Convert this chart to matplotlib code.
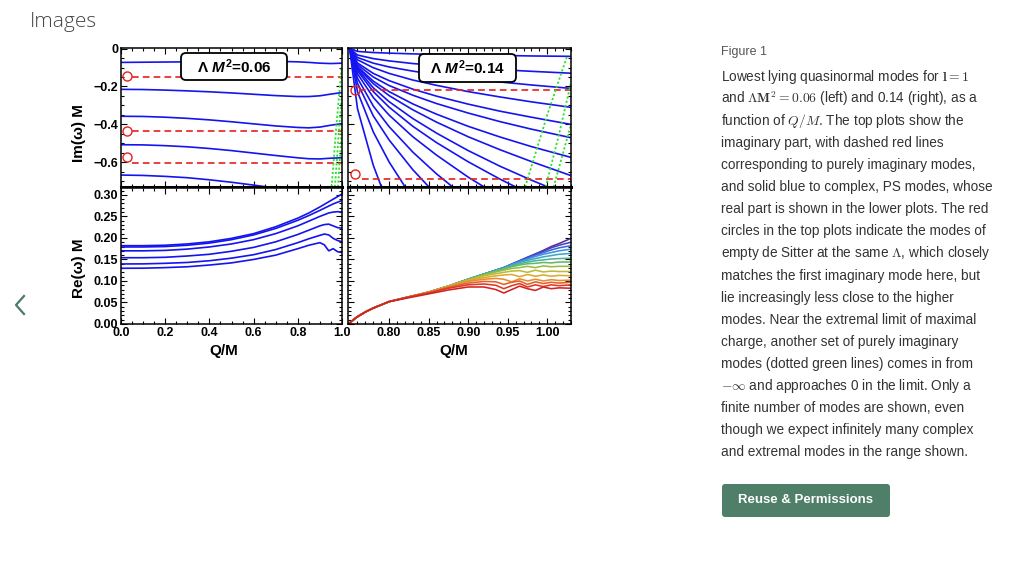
import numpy as np
import matplotlib
matplotlib.use("Agg")
import matplotlib.pyplot as plt
from matplotlib.patches import FancyBboxPatch
from matplotlib.ticker import MultipleLocator, FixedLocator, FixedFormatter
from matplotlib.lines import Line2D
from matplotlib.colors import LinearSegmentedColormap

plt.rcParams['mathtext.fontset'] = 'custom'
plt.rcParams['mathtext.rm'] = 'Liberation Sans:bold'
plt.rcParams['mathtext.it'] = 'Liberation Sans:italic:bold'
plt.rcParams['mathtext.bf'] = 'Liberation Sans:bold'
plt.rcParams['font.family'] = ['Liberation Sans', 'DejaVu Sans']

# ---------------- data: Lambda M^2 = 0.06 (left) ----------------
q_left_im = [0.0, 0.1, 0.2, 0.3, 0.4, 0.5, 0.6, 0.7, 0.8, 0.85, 0.9, 0.95, 1.0]
im06_ps1 = [-0.073, -0.072, -0.071, -0.070, -0.069, -0.068, -0.067, -0.067, -0.070, -0.073, -0.077, -0.079, -0.077]
im06_ps2 = [-0.215, -0.216, -0.219, -0.223, -0.228, -0.234, -0.241, -0.248, -0.253, -0.253, -0.249, -0.240, -0.232]
im06_ps3 = [-0.357, -0.358, -0.362, -0.368, -0.376, -0.386, -0.397, -0.408, -0.416, -0.418, -0.414, -0.404, -0.396]
im06_ps4 = [-0.507, -0.508, -0.512, -0.518, -0.527, -0.538, -0.551, -0.564, -0.576, -0.581, -0.582, -0.578, -0.576]
im06_ps5 = [-0.667, -0.669, -0.674, -0.681, -0.692, -0.705, -0.720, -0.736, -0.752, -0.760, -0.768, -0.776, -0.784]
im06_pure = [-0.148, -0.437, -0.601]
im06_pure_q = [0.048, 1.0]
im06_ds = [-0.147, -0.433, -0.572]
im06_ds_q = 0.027
green06_q = [[0.953, 0.975, 0.998], [0.968, 0.985, 0.999], [0.982, 0.992, 0.9995]]
green06_im = [[-0.73, -0.40, -0.10], [-0.73, -0.45, -0.25], [-0.73, -0.55, -0.40]]

q_left_re = [0, 0.1, 0.2, 0.3, 0.4, 0.5, 0.6, 0.7, 0.8, 0.85, 0.9, 0.92, 0.94, 0.96, 0.98, 1.0]
re06_1 = [0.182, 0.182, 0.183, 0.186, 0.191, 0.199, 0.210, 0.226, 0.246, 0.258, 0.272, 0.278, 0.284, 0.290, 0.296, 0.302]
re06_2 = [0.179, 0.179, 0.180, 0.183, 0.188, 0.196, 0.207, 0.222, 0.241, 0.252, 0.264, 0.269, 0.274, 0.279, 0.283, 0.287]
re06_3 = [0.170, 0.170, 0.171, 0.174, 0.179, 0.186, 0.196, 0.210, 0.228, 0.239, 0.250, 0.254, 0.258, 0.260, 0.261, 0.260]
re06_4 = [0.154, 0.154, 0.155, 0.158, 0.162, 0.169, 0.178, 0.191, 0.208, 0.218, 0.228, 0.231, 0.232, 0.228, 0.224, 0.2225]
re06_5 = [0.1395, 0.1397, 0.141, 0.143, 0.147, 0.153, 0.161, 0.173, 0.189, 0.198, 0.206, 0.209, 0.207, 0.199, 0.194, 0.191]
re06_6 = [0.1295, 0.1297, 0.131, 0.133, 0.137, 0.142, 0.150, 0.160, 0.175, 0.183, 0.189, 0.184, 0.170, 0.175, 0.168, 0.166]

# ---------------- data: Lambda M^2 = 0.14 (right) ----------------
q_right_im = [0.75, 0.76, 0.78, 0.80, 0.83, 0.86, 0.90, 0.94, 0.98, 1.03]
im14_01 = [0, -0.015, -0.021, -0.024, -0.028, -0.031, -0.034, -0.036, -0.039, -0.041]
im14_02 = [0, -0.034, -0.053, -0.065, -0.079, -0.089, -0.101, -0.111, -0.120, -0.130]
im14_03 = [0, -0.047, -0.077, -0.097, -0.119, -0.138, -0.159, -0.176, -0.192, -0.210]
im14_04 = [0, -0.059, -0.101, -0.131, -0.166, -0.194, -0.227, -0.255, -0.281, -0.310]
im14_05 = [0, -0.076, -0.131, -0.169, -0.214, -0.251, -0.293, -0.330, -0.362, -0.400]
im14_06 = [0, -0.085, -0.150, -0.195, -0.246, -0.290, -0.340, -0.385, -0.425, -0.470]
im14_07 = [0, -0.095, -0.172, -0.227, -0.292, -0.346, -0.410, -0.466, -0.517, -0.574]
im14_08 = [0, -0.100, -0.185, -0.248, -0.323, -0.388, -0.465, -0.533, -0.596, -0.670]
im14_09 = [0, -0.108, -0.207, -0.280, -0.369, -0.446, -0.538, -0.620, -0.694, -0.780]
im14_10 = [0, -0.117, -0.227, -0.309, -0.410, -0.496, -0.597, -0.688, -0.771, -0.868]
im14_11 = [0, -0.133, -0.258, -0.351, -0.465, -0.562, -0.678, -0.781, -0.875, -0.985]
im14_12 = [0, -0.156, -0.303, -0.412, -0.546, -0.661, -0.796, -0.917, -1.03, -1.16]
im14_13 = [0, -0.183, -0.355, -0.482, -0.639, -0.773, -0.93, -1.07, -1.2, -1.35]
im14_14 = [0, -0.227, -0.440, -0.598, -0.793, -0.96, -1.15, -1.33, -1.49, -1.68]
im14_15 = [0, -0.317, -0.616, -0.837, -1.11, -1.34, -1.61, -1.86, -2.08, -2.35]
im14_pure = [-0.219, -0.686]
im14_pure_q = [[0.762, 1.03], [0.766, 1.03]]
im14_ds = [-0.219, -0.660]
im14_ds_q = 0.757
green14_q = [[0.972, 1.0, 1.025], [0.998, 1.015, 1.03], [1.008, 1.02, 1.03]]
green14_im = [[-0.73, -0.35, -0.04], [-0.73, -0.45, -0.18], [-0.73, -0.55, -0.40]]

q_right_re = [0.75, 0.755, 0.76, 0.77, 0.78, 0.80, 0.825, 0.85, 0.875, 0.90, 0.92,
              0.935, 0.945, 0.955, 0.965, 0.975, 0.985, 0.995, 1.005, 1.015, 1.03]
re14_01 = [0.002, 0.010, 0.017, 0.028, 0.037, 0.052, 0.063, 0.074, 0.088, 0.104, 0.116, 0.125, 0.131, 0.139, 0.147, 0.155, 0.163, 0.171, 0.180, 0.187, 0.199]
re14_02 = [0.002, 0.010, 0.017, 0.028, 0.037, 0.052, 0.063, 0.074, 0.088, 0.104, 0.116, 0.125, 0.131, 0.139, 0.147, 0.155, 0.162, 0.169, 0.177, 0.183, 0.190]
re14_03 = [0.002, 0.010, 0.017, 0.028, 0.037, 0.052, 0.063, 0.074, 0.088, 0.104, 0.116, 0.125, 0.131, 0.139, 0.146, 0.153, 0.160, 0.166, 0.172, 0.177, 0.182]
re14_04 = [0.002, 0.010, 0.017, 0.028, 0.037, 0.052, 0.063, 0.074, 0.088, 0.104, 0.116, 0.125, 0.131, 0.138, 0.145, 0.151, 0.157, 0.162, 0.166, 0.170, 0.174]
re14_05 = [0.002, 0.010, 0.017, 0.028, 0.037, 0.052, 0.063, 0.074, 0.088, 0.104, 0.116, 0.125, 0.130, 0.137, 0.143, 0.148, 0.152, 0.156, 0.159, 0.162, 0.164]
re14_06 = [0.002, 0.010, 0.017, 0.028, 0.037, 0.052, 0.063, 0.074, 0.088, 0.104, 0.116, 0.124, 0.129, 0.135, 0.140, 0.144, 0.147, 0.149, 0.151, 0.152, 0.153]
re14_07 = [0.002, 0.010, 0.017, 0.028, 0.037, 0.052, 0.063, 0.074, 0.088, 0.104, 0.115, 0.123, 0.128, 0.133, 0.137, 0.140, 0.141, 0.143, 0.142, 0.144, 0.144]
re14_08 = [0.002, 0.010, 0.017, 0.028, 0.037, 0.052, 0.063, 0.074, 0.088, 0.103, 0.114, 0.121, 0.125, 0.129, 0.131, 0.134, 0.131, 0.135, 0.133, 0.134, 0.134]
re14_09 = [0.002, 0.010, 0.017, 0.028, 0.037, 0.052, 0.063, 0.074, 0.088, 0.102, 0.112, 0.117, 0.120, 0.123, 0.124, 0.120, 0.125, 0.121, 0.123, 0.122, 0.122]
re14_10 = [0.002, 0.010, 0.017, 0.028, 0.037, 0.052, 0.063, 0.074, 0.087, 0.101, 0.108, 0.112, 0.114, 0.115, 0.110, 0.115, 0.111, 0.114, 0.111, 0.113, 0.112]
re14_11 = [0.002, 0.010, 0.017, 0.028, 0.037, 0.052, 0.063, 0.074, 0.086, 0.099, 0.104, 0.106, 0.104, 0.098, 0.105, 0.100, 0.104, 0.100, 0.103, 0.101, 0.102]
re14_12 = [0.002, 0.010, 0.017, 0.028, 0.037, 0.052, 0.063, 0.073, 0.085, 0.095, 0.099, 0.098, 0.092, 0.097, 0.100, 0.092, 0.098, 0.094, 0.097, 0.095, 0.097]
re14_13 = [0.002, 0.010, 0.017, 0.028, 0.037, 0.052, 0.063, 0.072, 0.083, 0.091, 0.093, 0.090, 0.082, 0.089, 0.094, 0.086, 0.091, 0.087, 0.091, 0.089, 0.091]
re14_14 = [0.002, 0.010, 0.017, 0.028, 0.037, 0.052, 0.061, 0.070, 0.079, 0.086, 0.086, 0.080, 0.072, 0.080, 0.088, 0.082, 0.078, 0.086, 0.082, 0.084, 0.083]

# tick labels
im_ticks = [0.0, -0.2, -0.4, -0.6]
im_ticklabels = ["0", "\u22120.2", "\u22120.4", "\u22120.6"]
re_ticks = [0.0, 0.05, 0.10, 0.15, 0.20, 0.25, 0.30]
re_ticklabels = ["0.00", "0.05", "0.10", "0.15", "0.20", "0.25", "0.30"]
ql_ticks = [0.0, 0.2, 0.4, 0.6, 0.8, 1.0]
ql_ticklabels = ["0.0", "0.2", "0.4", "0.6", "0.8", "1.0"]
qr_ticks = [0.80, 0.85, 0.90, 0.95, 1.00]
qr_ticklabels = ["0.80", "0.85", "0.90", "0.95", "1.00"]

# ---------------- figure ----------------
W, H = 1009, 572
fig = plt.figure(figsize=(W / 100, H / 100), dpi=100)
fig.patch.set_facecolor('white')

def fx(px):
    return px / W

def fy(py):
    return 1 - py / H

def axes_px(x0, y0, x1, y1):
    return fig.add_axes([fx(x0), fy(y1), fx(x1) - fx(x0), (y1 - y0) / H])

BLUE = '#1414f0'
RED = '#e8201c'
GREEN = '#2fe02f'

ax_tl = axes_px(121, 48, 342, 187)
ax_bl = axes_px(121, 188, 342, 324)
ax_tr = axes_px(348, 48, 571, 187)
ax_br = axes_px(348, 188, 571, 324)

for ax in (ax_tl, ax_bl, ax_tr, ax_br):
    ax.tick_params(which='both', direction='in', top=True, right=True,
                   width=0.8, labelsize=9, pad=2)
    ax.tick_params(which='major', length=4)
    ax.tick_params(which='minor', length=2)
    for s in ax.spines.values():
        s.set_linewidth(1.1)

IM_LIM = (-0.73, 0.003)
RE_LIM = (0.0, 0.316)

# top-left
for c in (im06_ps1, im06_ps2, im06_ps3, im06_ps4, im06_ps5):
    ax_tl.plot(q_left_im, c, color=BLUE, lw=1.2)
for v in im06_pure:
    ax_tl.plot(im06_pure_q, [v, v], color=RED, lw=1.2, dashes=(4, 2.5))
for v in im06_ds:
    ax_tl.plot([im06_ds_q], [v], 'o', mfc='none', mec=RED, ms=6.5, mew=1.0)
for gq, gi in zip(green06_q, green06_im):
    ax_tl.plot(gq, gi, color=GREEN, lw=1.3, ls=(0, (1.2, 1.2)))
ax_tl.set_xlim(0, 1.0)
ax_tl.set_ylim(*IM_LIM)

# top-right
for c in (im14_01, im14_02, im14_03, im14_04, im14_05, im14_06, im14_07, im14_08,
          im14_09, im14_10, im14_11, im14_12, im14_13, im14_14, im14_15):
    ax_tr.plot(q_right_im, c, color=BLUE, lw=1.2)
for v, pq in zip(im14_pure, im14_pure_q):
    ax_tr.plot(pq, [v, v], color=RED, lw=1.2, dashes=(4, 2.5))
for v in im14_ds:
    ax_tr.plot([im14_ds_q], [v], 'o', mfc='none', mec=RED, ms=6.5, mew=1.0)
for gq, gi in zip(green14_q, green14_im):
    ax_tr.plot(gq, gi, color=GREEN, lw=1.3, ls=(0, (1.2, 1.2)))
ax_tr.set_xlim(0.748, 1.03)
ax_tr.set_ylim(*IM_LIM)

# bottom-left
for c in (re06_1, re06_2, re06_3, re06_4, re06_5, re06_6):
    ax_bl.plot(q_left_re, c, color=BLUE, lw=1.2)
ax_bl.set_xlim(0, 1.0)
ax_bl.set_ylim(*RE_LIM)

# bottom-right
re14_all = [re14_01, re14_02, re14_03, re14_04, re14_05, re14_06, re14_07,
            re14_08, re14_09, re14_10, re14_11, re14_12, re14_13, re14_14]
rainbow = LinearSegmentedColormap.from_list(
    'mma_rainbow', ['#5b2a9c', '#3b4fd6', '#3f8fe0', '#3fb0c0', '#5bb86a',
                    '#9fbf3e', '#d9b431', '#e88a2c', '#e0462a', '#d42222'])
n = len(re14_all)
for i, c in enumerate(re14_all):
    ax_br.plot(q_right_re, c, color=rainbow(i / (n - 1)), lw=1.15)
ax_br.set_xlim(0.748, 1.03)
ax_br.set_ylim(*RE_LIM)

# ticks
ax_tl.yaxis.set_major_locator(FixedLocator(im_ticks))
ax_tl.yaxis.set_major_formatter(FixedFormatter(im_ticklabels))
ax_tl.yaxis.set_minor_locator(MultipleLocator(0.05))
ax_tr.yaxis.set_major_locator(FixedLocator(im_ticks))
ax_tr.yaxis.set_minor_locator(MultipleLocator(0.05))
ax_tr.set_yticklabels([])
for ax in (ax_tl, ax_bl):
    ax.xaxis.set_major_locator(FixedLocator(ql_ticks))
    ax.xaxis.set_minor_locator(MultipleLocator(0.05))
for ax in (ax_tr, ax_br):
    ax.xaxis.set_major_locator(FixedLocator(qr_ticks))
    ax.xaxis.set_minor_locator(MultipleLocator(0.01))
ax_tl.set_xticklabels([])
ax_tr.set_xticklabels([])
ax_bl.xaxis.set_major_formatter(FixedFormatter(ql_ticklabels))
ax_br.xaxis.set_major_formatter(FixedFormatter(qr_ticklabels))
for ax in (ax_bl, ax_br):
    ax.yaxis.set_major_locator(FixedLocator(re_ticks))
    ax.yaxis.set_minor_locator(MultipleLocator(0.01))
ax_bl.yaxis.set_major_formatter(FixedFormatter(re_ticklabels))
ax_br.set_yticklabels([])
for ax in (ax_tl, ax_tr):
    ax.spines['bottom'].set_linewidth(2.2)
for ax in (ax_tl, ax_bl, ax_tr, ax_br):
    for lab in ax.get_xticklabels() + ax.get_yticklabels():
        lab.set_fontweight('bold')
        lab.set_fontsize(9)

# label boxes (pixel layout)
inch = fig.dpi_scale_trans
def box_px(x0, y0, x1, y1, label):
    p = FancyBboxPatch((x0 / 100, (H - y1) / 100), (x1 - x0) / 100, (y1 - y0) / 100,
                       boxstyle='round,pad=0,rounding_size=0.05', transform=inch,
                       fc='white', ec='black', lw=1.3, zorder=10)
    fig.patches.append(p)
    fig.text(fx((x0 + x1) / 2), fy((y0 + y1) / 2), label, ha='center', va='center',
             fontsize=11, fontweight='bold', zorder=11, math_fontfamily='custom')

box_px(181, 53, 287, 80, "\u039b $M^2$=0.06")
box_px(419, 54, 516, 82, "\u039b $M^2$=0.14")

# axis labels
lab_kw = dict(fontsize=11, fontweight='bold', ha='center', va='center')
fig.text(fx(79), fy(133), "Im(\u03c9) M", rotation=90, **lab_kw)
fig.text(fx(79), fy(268), "Re(\u03c9) M", rotation=90, **lab_kw)
fig.text(fx(224), fy(351), "Q/M", **lab_kw)
fig.text(fx(454), fy(351), "Q/M", **lab_kw)

# ---------------- page elements ----------------
fig.text(fx(30), fy(22), "Images", fontsize=15, family='Open Sans', fontweight='light',
         color='#454545', ha='left', va='center')
fig.add_artist(Line2D([fx(24), fx(16), fx(24)], [fy(296), fy(305), fy(314)],
                      color='#4d7a68', lw=1.6, transform=fig.transFigure))

fig.text(fx(721), fy(52), "Figure 1", fontsize=9, color='#555555', ha='left', va='center')
caption = [
    r"Lowest lying quasinormal modes for $\mathbf{l=1}$",
    r"and $\mathbf{\Lambda M^2 = 0.06}$ (left) and 0.14 (right), as a",
    r"function of $Q/M$. The top plots show the",
    "imaginary part, with dashed red lines",
    "corresponding to purely imaginary modes,",
    "and solid blue to complex, PS modes, whose",
    "real part is shown in the lower plots. The red",
    "circles in the top plots indicate the modes of",
    r"empty de Sitter at the same $\mathbf{\Lambda}$, which closely",
    "matches the first imaginary mode here, but",
    "lie increasingly less close to the higher",
    "modes. Near the extremal limit of maximal",
    "charge, another set of purely imaginary",
    "modes (dotted green lines) comes in from",
    r"$-\infty$ and approaches 0 in the limit. Only a",
    "finite number of modes are shown, even",
    "though we expect infinitely many complex",
    "and extremal modes in the range shown.",
]
for i, line in enumerate(caption):
    fig.text(fx(721), fy(77 + i * 22.06), line, fontsize=9.8, color='#333333',
             ha='left', va='center', math_fontfamily='cm')

btn = FancyBboxPatch((722 / 100, (H - 517) / 100), (890 - 722) / 100, (517 - 484) / 100,
                     boxstyle='round,pad=0,rounding_size=0.03', transform=inch,
                     fc='#4f7f68', ec='none', zorder=5)
fig.patches.append(btn)
fig.text(fx(806), fy(500), "Reuse & Permissions", fontsize=9.5, fontweight='bold',
         color='white', ha='center', va='center', zorder=6)

fig.savefig("out.png", dpi=100, facecolor='white')
